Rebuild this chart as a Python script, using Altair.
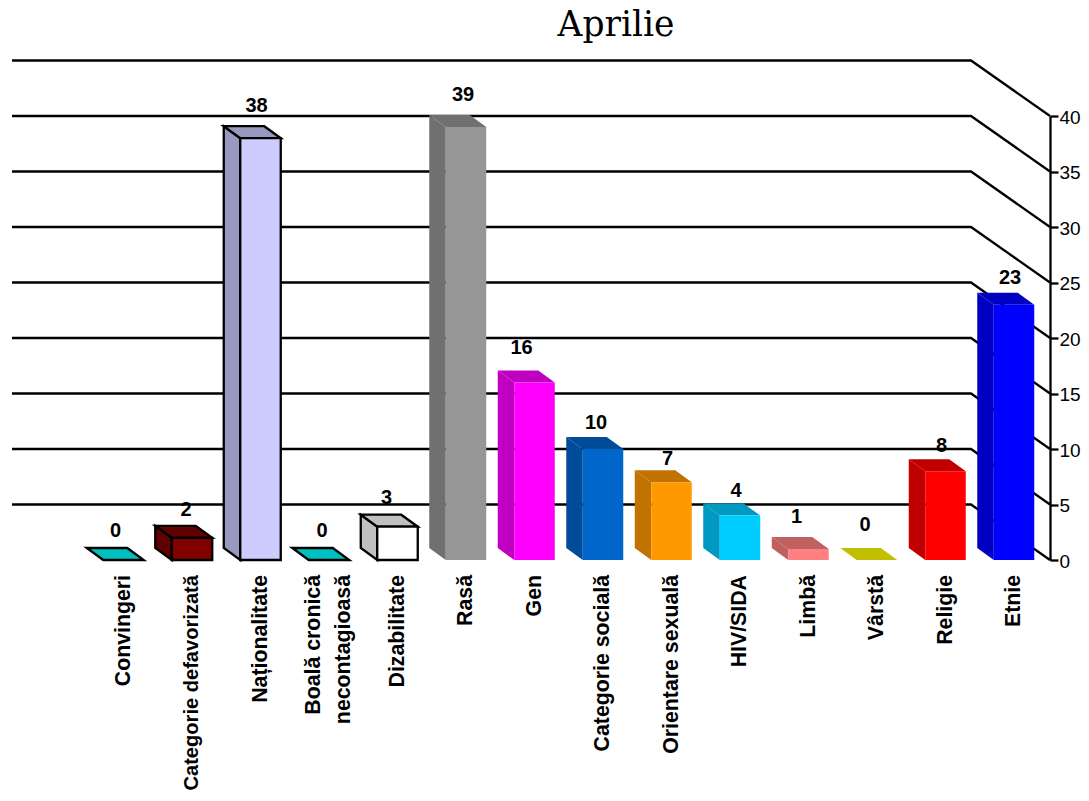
import altair as alt
import pandas as pd

categories = ["Convingeri", "Categorie defavorizată", "Naționalitate", "Boală cronică\nnecontagioasă",
              "Dizabilitate", "Rasă", "Gen", "Categorie socială", "Orientare sexuală", "HIV/SIDA",
              "Limbă", "Vârstă", "Religie", "Etnie"]
values = [0, 2, 38, 0, 3, 39, 16, 10, 7, 4, 1, 0, 8, 23]
front_colors = ["#00C0C0", "#800000", "#CCCCFF", "#00C0C0", "#FFFFFF", "#969696", "#FF00FF",
                "#0066CC", "#FF9900", "#00CCFF", "#FF8080", "#C0C000", "#FF0000", "#0000FF"]
depth_colors = ["#00C0C0", "#600000", "#9999C0", "#00C0C0", "#C0C0C0", "#707070", "#C000C0",
                "#004C99", "#C07300", "#0099C0", "#C06060", "#C0C000", "#C00000", "#0000C0"]
outlined = [True, True, True, True, True, False, False, False, False, False, False, False, False, False]
# hand-placed data labels of the original: offsets in pixels from the top centre of each front face
label_dx = [-8, -6, -4, -7, -11, -3, -13, -7, -4, -4, -12, -12, -4, -4]
label_dy = [29, 28, 32, 29, 29, 32, 34, 26, 23, 25, 32, 35, 25, 27]
cat_dx = [0, 0, 0, -15, 0, 0, 0, 0, 0, 0, 0, 0, 0, 0]
cat_size = [21.3, 20.1, 21.3, 21.3, 21.3, 21.3, 21.3, 21.3, 21.3, 21.3, 21.3, 21.3, 21.3, 21.3]
axis_ticks = [0, 5, 10, 15, 20, 25, 30, 35, 40]

PX_SLOT = 68.5
PX_UNIT = 11.1
HALF = 20.25 / PX_SLOT
DX = 16.5 / PX_SLOT
DY = 12 / PX_UNIT
X0 = (8 - 123.5) / PX_SLOT
X1 = (1050 - 123.5) / PX_SLOT
LINE = 2.3

x_scale = alt.Scale(domain=[X0, X1], nice=False, zero=False)
y_scale = alt.Scale(domain=[0, 40], nice=False, zero=False)
X = alt.X("x:Q", scale=x_scale, axis=None)
Y = alt.Y("y:Q", scale=y_scale,
          axis=alt.Axis(orient="right", values=axis_ticks, title=None, grid=False,
                        domainColor="black", domainWidth=LINE, tickColor="black", tickWidth=LINE,
                        tickSize=8, labelFont="Liberation Sans", labelFontSize=19,
                        labelColor="black", labelPadding=1, labelOffset=1))

# back wall + floor-side grid lines
grid_rows = []
for t in axis_ticks:
    for px, dv in ((12, 5), (971, 5), (1050, 0)):
        grid_rows.append({"x": (px - 123.5) / PX_SLOT, "y": t + dv, "level": t})
grid = alt.Chart(pd.DataFrame(grid_rows)).mark_line(color="black", strokeWidth=LINE, clip=False).encode(
    x=X, y=Y, detail="level:N")

side_rows, top_rows, front_rows = [], [], []
for i, (c, v) in enumerate(zip(categories, values)):
    xl, xr = i - HALF, i + HALF
    stroke = "black" if outlined[i] else "transparent"
    base = {"bar": c, "fill": depth_colors[i], "line": stroke}
    if v > 0:
        side_rows += [
            dict(base, x=xl - DX, y=v + DY, y2=DY),
            dict(base, x=xl, y=v, y2=0),
        ]
    top_rows += [
        dict(base, x=xl - DX, y=v + DY, y2=v + DY),
        dict(base, x=xl, y=v + DY, y2=v),
        dict(base, x=xr - DX, y=v + DY, y2=v),
        dict(base, x=xr, y=v, y2=v),
    ]
    if v > 0:
        front_rows.append({"x": xl, "x2": xr, "y": v, "y2": 0, "fill": front_colors[i], "line": stroke})


def faces(rows):
    return alt.Chart(pd.DataFrame(rows)).mark_area(strokeWidth=LINE, strokeJoin="miter", clip=False, opacity=1).encode(
        x=X, y=Y, y2="y2:Q",
        detail="bar:N",
        color=alt.Color("fill:N", scale=None, legend=None),
        stroke=alt.Stroke("line:N", scale=None, legend=None),
    )


side = faces(side_rows)
top = faces(top_rows)
front = alt.Chart(pd.DataFrame(front_rows)).mark_rect(strokeWidth=LINE, clip=False).encode(
    x=X, x2="x2:Q", y=Y, y2="y2:Q",
    color=alt.Color("fill:N", scale=None, legend=None),
    stroke=alt.Stroke("line:N", scale=None, legend=None),
)

value_df = pd.DataFrame({
    "x": [i + d / PX_SLOT for i, d in enumerate(label_dx)],
    "y": [v + d / PX_UNIT for v, d in zip(values, label_dy)],
    "label": [str(v) for v in values],
})
value_labels = alt.Chart(value_df).mark_text(
    font="Liberation Sans", fontWeight="bold", fontSize=20, color="black", baseline="middle", clip=False
).encode(x=X, y=Y, text="label:N")

cat_df = pd.DataFrame({
    "x": [i + d / PX_SLOT for i, d in enumerate(cat_dx)],
    "y": [-15 / PX_UNIT] * len(categories),
    "label": categories,
    "fs": cat_size,
})
cat_labels = alt.Chart(cat_df).mark_text(
    font="Liberation Sans", fontWeight="bold", color="black", angle=270, align="right",
    baseline="middle", lineBreak="\n", lineHeight=30, clip=False
).encode(x=X, y=Y, text="label:N", size=alt.Size("fs:Q", scale=None, legend=None))

chart = alt.layer(grid, side, top, front, value_labels, cat_labels).properties(
    width=1042, height=444,
    padding={"left": 0, "top": 108, "right": 31, "bottom": 233},
    autosize=alt.AutoSizeParams(type="none"),
    background="white",
    title=alt.TitleParams("Aprilie", font="DejaVu Serif", fontSize=34.5, fontWeight="normal", color="black",
                          anchor="middle", dx=87, offset=12),
).configure_view(stroke=None)

chart.save("out.html", embed_options={"renderer": "svg", "actions": False})
